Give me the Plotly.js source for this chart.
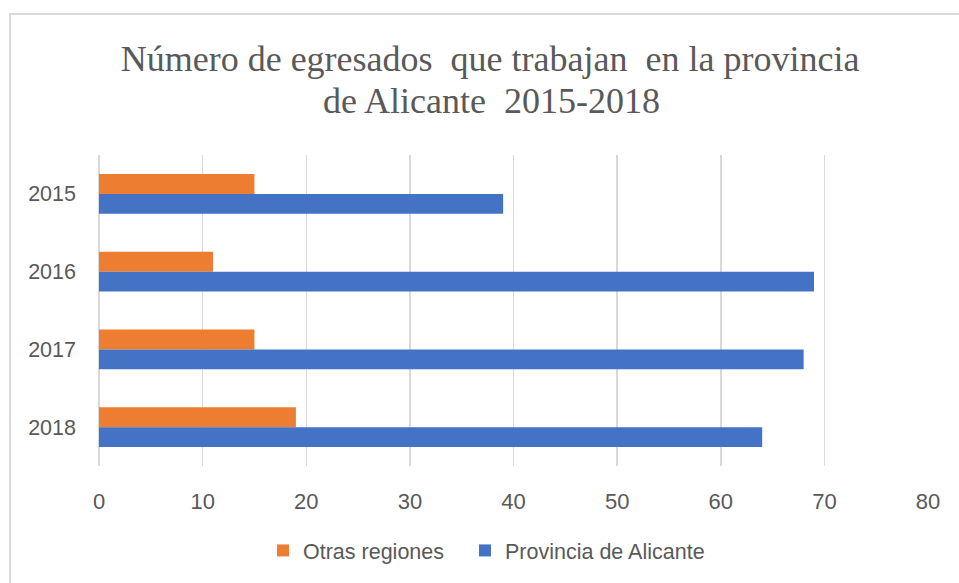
<!DOCTYPE html>
<html>
<head>
<meta charset="utf-8">
<script src="https://cdn.plot.ly/plotly-3.0.1.min.js"></script>
<style>html,body{margin:0;padding:0;background:#fff;}#chart{width:959px;height:583px;}</style>
</head>
<body>
<div id="chart"></div>
<script>
const years = ['2015', '2016', '2017', '2018'];
const otrasRegiones = [15, 11, 15, 19];
const provinciaAlicante = [39, 69, 68, 64];
const xTicks = [0, 10, 20, 30, 40, 50, 60, 70, 80];
const seriesNames = ['Otras regiones', 'Provincia de Alicante'];
const titleLine1 = 'Número de egresados\u00a0 que trabajan\u00a0 en la provincia';
const titleLine2 = 'de Alicante\u00a0 2015-2018';

const traces = [
  {type: 'bar', orientation: 'h', name: seriesNames[0], y: years, x: otrasRegiones,
   marker: {color: '#ED7D31'}, hoverinfo: 'x+name', legend: 'legend'},
  {type: 'bar', orientation: 'h', name: seriesNames[1], y: years, x: provinciaAlicante,
   marker: {color: '#4472C4'}, hoverinfo: 'x+name', legend: 'legend2'}
];

const titleFont = {family: 'Liberation Serif, Times New Roman, serif', size: 36, color: '#595959'};
const legendFont = {family: 'Liberation Sans, Arial, sans-serif', size: 21.5, color: '#595959'};
const px2x = p => (p - 99) / 829;
const py2y = p => (468 - p) / 313;

const layout = {
  width: 959, height: 583,
  margin: {l: 99, r: 31, t: 155, b: 115},
  paper_bgcolor: '#ffffff', plot_bgcolor: '#ffffff',
  barmode: 'group', bargap: 0.487, bargroupgap: 0,
  title: {
    text: titleLine1,
    font: titleFont,
    x: 0.511, xref: 'container', xanchor: 'center',
    y: 1 - 58/583, yref: 'container', yanchor: 'middle'
  },
  annotations: [
    {text: titleLine2, font: titleFont, showarrow: false,
     xref: 'paper', yref: 'paper', x: px2x(491), y: py2y(101),
     xanchor: 'center', yanchor: 'middle'}
  ],
  xaxis: {
    range: [0, 80], tickvals: xTicks, ticktext: xTicks.map(String),
    showgrid: true, gridcolor: '#d9d9d9', gridwidth: 1.5,
    zeroline: true, zerolinecolor: '#d9d9d9', zerolinewidth: 1.5,
    showline: false, ticks: '', ticklabelstandoff: 20,
    tickfont: {family: 'Liberation Sans, Arial, sans-serif', size: 22, color: '#595959'},
    fixedrange: true
  },
  yaxis: {
    type: 'category', categoryorder: 'array', categoryarray: years,
    autorange: 'reversed', showgrid: false, zeroline: false, showline: false,
    ticks: '', ticklabelstandoff: 22,
    tickfont: {family: 'Liberation Sans, Arial, sans-serif', size: 21.5, color: '#595959'},
    fixedrange: true
  },
  showlegend: true,
  legend: {
    orientation: 'h', x: px2x(263), xanchor: 'left', y: py2y(553), yanchor: 'middle',
    font: legendFont, itemsizing: 'constant'
  },
  legend2: {
    orientation: 'h', x: px2x(465), xanchor: 'left', y: py2y(553), yanchor: 'middle',
    font: legendFont, itemsizing: 'constant'
  },
  shapes: [
    {type: 'rect', xref: 'paper', yref: 'paper',
     x0: px2x(10), x1: px2x(1000), y0: py2y(600), y1: py2y(13),
     line: {color: '#d9d9d9', width: 2}, fillcolor: 'rgba(0,0,0,0)', layer: 'below'}
  ]
};

Plotly.newPlot('chart', traces, layout, {displayModeBar: false, staticPlot: true});
</script>
</body>
</html>
